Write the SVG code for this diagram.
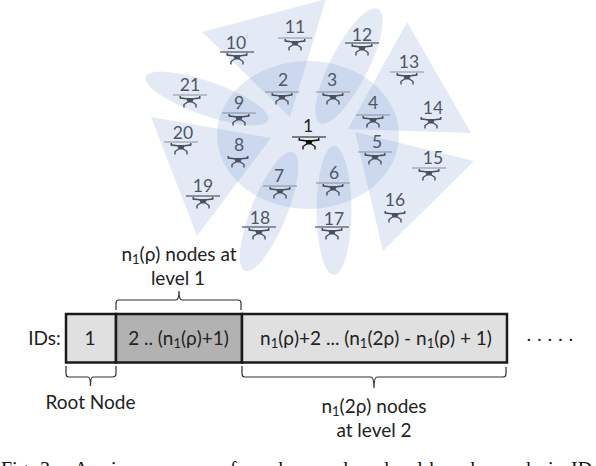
<svg xmlns="http://www.w3.org/2000/svg" width="596" height="466" viewBox="0 0 596 466">
<style>
.cov{fill:#4472c4;fill-opacity:.15}
.lb{font:17.500px Lato,"Liberation Sans",sans-serif;fill:#4d5666;text-anchor:middle}
.t{font:19px Lato,"Liberation Sans",sans-serif;fill:#222;text-anchor:middle}
.sub{font-size:13px}
.cell{stroke:#1a1a1a;stroke-width:2.5}
.br{fill:none;stroke:#333;stroke-width:1.2}
.cap{font:20px "Liberation Serif",serif;fill:#111}
.rot{stroke:#777c86;stroke-width:.8}
.rotd{stroke:#33373f;stroke-width:1.2}
.dr{fill:none;stroke:#4b505c;stroke-width:1.4}
.drk{fill:#4b505c}
</style>
<defs>
<g id="body">
<path class="dr" d="M-1 6L-6 9.500V12.500M1 6L6 9.500V12.500"/>
<path class="drk" d="M-10.500 1H-9V2.300L-3.500 3H3.500L9 2.300V1H10.500V3.800L3.500 4.600L2 7.500H-2L-3.500 4.600L-10.500 3.800Z"/>
</g>
<g id="d"><line class="rot" x1="-17" x2="17" y1="0" y2="0"/><use href="#body"/></g>
<g id="dd"><line class="rotd" x1="-17" x2="17" y1="0" y2="0"/><use href="#body"/></g>
</defs>
<g id="coverage">
<ellipse class="cov" cx="308" cy="135" rx="91" ry="74"/>
<polygon class="cov" points="202,32 326,-1 290,117"/>
<ellipse class="cov" cx="207" cy="98.500" rx="65" ry="17" transform="rotate(19.400 207 98.500)"/>
<polygon class="cov" points="151,117 271,138 197,236"/>
<ellipse class="cov" cx="269" cy="211.500" rx="18" ry="64" transform="rotate(22 269 211.500)"/>
<ellipse class="cov" cx="334" cy="210.500" rx="17.500" ry="64.500"/>
<polygon class="cov" points="355,132 474,161 383,251"/>
<polygon class="cov" points="407,22 348,129 471,133"/>
<ellipse class="cov" cx="349" cy="66" rx="19" ry="64" transform="rotate(27 349 66)"/>
</g>
<g id="node-1"><text class="lb" x="308" y="132" style="fill:#222">1</text><g transform="translate(309,137)"><line x1="-17" x2="17" stroke="#111" stroke-width="1"/><path fill="none" stroke="#111" stroke-width="1.400" d="M-1 6L-6 9.500V12.500M1 6L6 9.500V12.500"/><path fill="#111" d="M-10.500 1H-9V2.300L-3.500 3H3.500L9 2.300V1H10.500V3.800L3.500 4.600L2 7.500H-2L-3.500 4.600L-10.500 3.800Z"/></g></g>
<g id="node-2"><text class="lb" x="283" y="86">2</text><use href="#d" x="282" y="92"/></g>
<g id="node-3"><text class="lb" x="332" y="86">3</text><use href="#d" x="333" y="92"/></g>
<g id="node-4"><text class="lb" x="373" y="109">4</text><use href="#d" x="373" y="115"/></g>
<g id="node-5"><text class="lb" x="377" y="148">5</text><use href="#d" x="375" y="152"/></g>
<g id="node-6"><text class="lb" x="334" y="179">6</text><use href="#d" x="333" y="183"/></g>
<g id="node-7"><text class="lb" x="279" y="182">7</text><use href="#d" x="280" y="186"/></g>
<g id="node-8"><text class="lb" x="239" y="151">8</text><use href="#body" x="238" y="155"/></g>
<g id="node-9"><text class="lb" x="239" y="109">9</text><use href="#d" x="239" y="113"/></g>
<g id="node-10"><text class="lb" x="236" y="49">10</text><use href="#dd" x="237" y="52"/></g>
<g id="node-11"><text class="lb" x="295" y="33">11</text><use href="#d" x="295" y="38"/></g>
<g id="node-12"><text class="lb" x="362" y="41">12</text><use href="#dd" x="362" y="43"/></g>
<g id="node-13"><text class="lb" x="409" y="68">13</text><use href="#d" x="407" y="72"/></g>
<g id="node-14"><text class="lb" x="433" y="114">14</text><use href="#body" x="431" y="116"/></g>
<g id="node-15"><text class="lb" x="433" y="164">15</text><use href="#d" x="429" y="168"/></g>
<g id="node-16"><text class="lb" x="395" y="206">16</text><use href="#body" x="395" y="210"/></g>
<g id="node-17"><text class="lb" x="334" y="225">17</text><use href="#dd" x="332" y="227"/></g>
<g id="node-18"><text class="lb" x="260" y="224">18</text><use href="#dd" x="259" y="227"/></g>
<g id="node-19"><text class="lb" x="203" y="192">19</text><use href="#dd" x="203" y="196"/></g>
<g id="node-20"><text class="lb" x="183" y="139">20</text><use href="#d" x="181" y="142"/></g>
<g id="node-21"><text class="lb" x="190" y="91">21</text><use href="#d" x="190" y="95"/></g>
<g id="id-bar">
<rect class="cell" x="66" y="314" width="50" height="48.500" fill="#e0e0e0"/>
<rect class="cell" x="116" y="314" width="126" height="48.500" fill="#b2b2b2"/>
<rect class="cell" x="242" y="314" width="265" height="48.500" fill="#e0e0e0"/>
<text class="t" x="44.500" y="345">IDs:</text>
<text class="t" x="90" y="345">1</text>
<text class="t" x="178.500" y="345">2 .. (n<tspan class="sub" dy="3">1</tspan><tspan dy="-3">(ρ)+1)</tspan></text>
<text class="t" x="376" y="345">n<tspan class="sub" dy="3">1</tspan><tspan dy="-3">(ρ)+2 ... (n</tspan><tspan class="sub" dy="3">1</tspan><tspan dy="-3">(2ρ) - n</tspan><tspan class="sub" dy="3">1</tspan><tspan dy="-3">(ρ) + 1)</tspan></text>
<text class="t" x="550" y="341" style="font-size:16px;font-weight:700;word-spacing:2.800px">. . . . .</text>
</g>
<g id="connectors">
<path class="br" d="M116 310V303Q116 300 119 300H176Q179 300 179 291Q179 300 182 300H238Q241 300 241 303V310"/>
<path class="br" d="M66 366V374Q66 377 69 377H88Q90.500 377 90.500 386Q90.500 377 93 377H112Q116 377 116 374V366"/>
<path class="br" d="M242 366V374Q242 377 245 377H371Q374 377 374 388Q374 377 377 377H503Q506 377 506 374V367"/>
</g>
<g id="labels">
<text class="t" x="179" y="261">n<tspan class="sub" dy="3">1</tspan><tspan dy="-3">(ρ) nodes at</tspan></text>
<text class="t" x="178" y="285">level 1</text>
<text class="t" x="90.500" y="409">Root Node</text>
<text class="t" x="374" y="413">n<tspan class="sub" dy="3">1</tspan><tspan dy="-3">(2ρ) nodes</tspan></text>
<text class="t" x="374" y="437">at level 2</text>
<text class="cap" y="476"><tspan x="1">Fig.</tspan> <tspan x="40">3:</tspan> <tspan x="74">An</tspan> <tspan x="111">in</tspan> <tspan x="135">sequence</tspan> <tspan x="220">of</tspan> <tspan x="253">nodes</tspan> <tspan x="318">under</tspan> <tspan x="384">level-based</tspan> <tspan x="504">order</tspan> <tspan x="548">in</tspan> <tspan x="571">IDs</tspan></text>
</g>
</svg>
